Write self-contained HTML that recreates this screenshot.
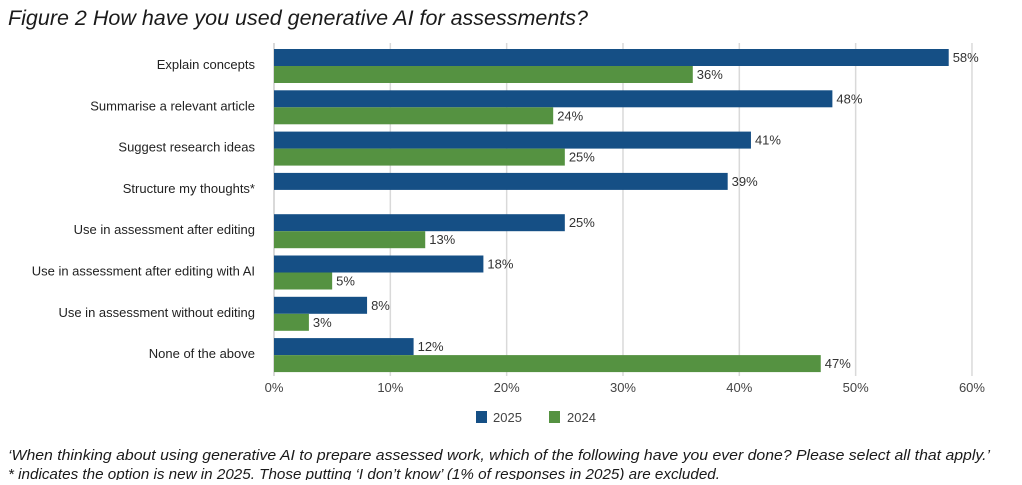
<!DOCTYPE html>
<html><head><meta charset="utf-8"><style>
body{margin:0;background:#fff;font-family:"Liberation Sans",sans-serif;}
svg text{font-family:"Liberation Sans",sans-serif;}
</style></head><body>
<svg width="1022" height="480" viewBox="0 0 1022 480" xmlns="http://www.w3.org/2000/svg">
<text x="8" y="25" font-size="21" font-style="italic" fill="#1a1a1a" textLength="580" lengthAdjust="spacingAndGlyphs">Figure 2 How have you used generative AI for assessments?</text>
<g id="grid"></g><g id="bars"></g><g id="cats"></g><g id="ticks"></g>
<g>
<rect x="476" y="411" width="11" height="12" fill="#154f85"/>
<text x="493" y="422" font-size="13" fill="#444">2025</text>
<rect x="549" y="411" width="11" height="12" fill="#559241"/>
<text x="567" y="422" font-size="13" fill="#444">2024</text>
</g>
<text x="8" y="460" font-size="14.5" font-style="italic" fill="#1a1a1a" textLength="982" lengthAdjust="spacingAndGlyphs">‘When thinking about using generative AI to prepare assessed work, which of the following have you ever done? Please select all that apply.’</text>
<text x="8" y="479" font-size="14.5" font-style="italic" fill="#1a1a1a" textLength="712" lengthAdjust="spacingAndGlyphs">* indicates the option is new in 2025. Those putting ‘I don’t know’ (1% of responses in 2025) are excluded.</text>
</svg>
<script>
const categories=["Explain concepts","Summarise a relevant article","Suggest research ideas","Structure my thoughts*","Use in assessment after editing","Use in assessment after editing with AI","Use in assessment without editing","None of the above"];
const values2025=[58,48,41,39,25,18,8,12];
const values2024=[36,24,25,null,13,5,3,47];
const tickValues=[0,10,20,30,40,50,60];
const ns="http://www.w3.org/2000/svg";
const x=v=>274+v*11.633;
const yTop=i=>49+i*41.3;
function mk(tag,attrs,parent){const e=document.createElementNS(ns,tag);for(const k in attrs)e.setAttribute(k,attrs[k]);document.getElementById(parent).appendChild(e);return e;}
tickValues.forEach(t=>{
 const g=mk("line",{x1:x(t),x2:x(t),y1:43,y2:376,stroke:"#d9d9d9","stroke-width":t===0?2:1.5},"grid");
 
 
 const l=mk("text",{x:x(t),y:392,"font-size":13,fill:"#444","text-anchor":"middle"},"ticks");
 l.textContent=t+"%";
 
 
});
categories.forEach((c,i)=>{
 const y=yTop(i);
 const t=mk("text",{x:255,y:y+20,"font-size":13,fill:"#222","text-anchor":"end"},"cats");
 t.textContent=c;
 
 
 [[values2025[i],"#154f85",0,"2025"],[values2024[i],"#559241",17,"2024"]].forEach(([v,col,off,yr])=>{
  if(v==null)return;
  const r=mk("rect",{x:x(0),y:y+off,width:x(v)-x(0),height:17,fill:col},"bars");
  
  
  const vl=mk("text",{x:x(v)+4,y:y+off+13,"font-size":13,fill:"#333"},"bars");
  vl.textContent=v+"%";
  
  
 });
});
</script>
</body></html>
